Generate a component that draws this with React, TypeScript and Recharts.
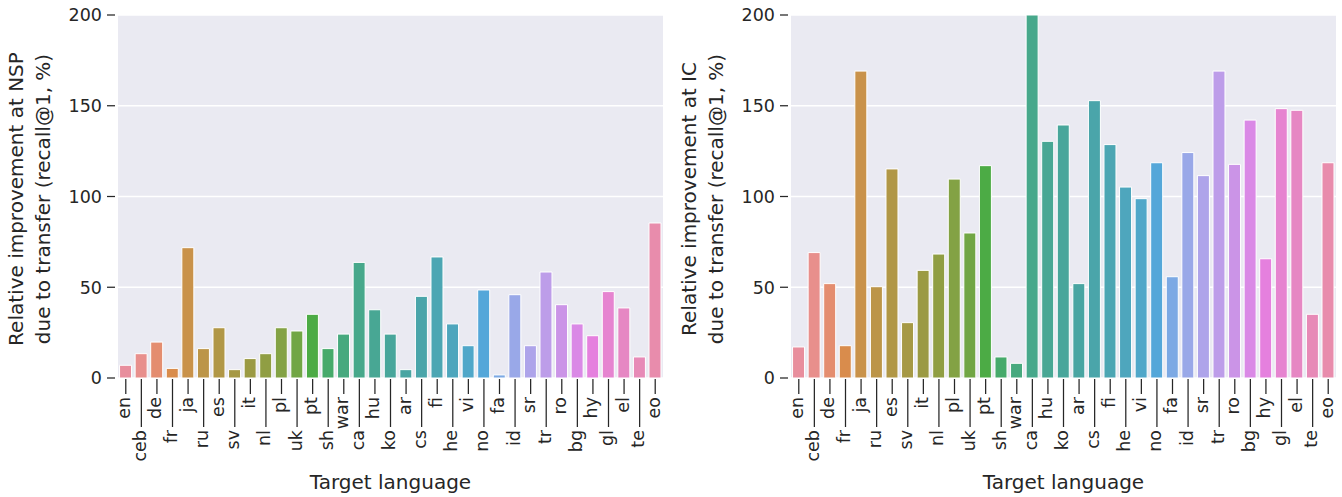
import React from 'react';
import { BarChart, Bar, XAxis, YAxis, CartesianGrid, Cell, Label } from 'recharts';

const LANGS = ['en','ceb','de','fr','ja','ru','es','sv','it','nl','pl','uk','pt','sh','war','ca','hu','ko','ar','cs','fi','he','vi','no','fa','id','sr','tr','ro','bg','hy','gl','el','te','eo'];

const NSP_VALUES = [7.0, 13.4, 19.8, 5.3, 71.8, 16.2, 27.7, 4.6, 10.7, 13.4, 27.7, 25.9, 35.1, 16.2, 24.2, 63.7, 37.6, 24.2, 4.6, 45.0, 66.7, 29.8, 17.8, 48.5, 1.7, 45.9, 17.8, 58.4, 40.4, 29.8, 23.3, 47.6, 38.6, 11.6, 85.4];

const IC_VALUES = [17.1, 69.1, 52.0, 17.8, 169.1, 50.3, 115.2, 30.5, 59.3, 68.3, 109.6, 79.9, 117.0, 11.6, 8.1, 200, 130.4, 139.4, 52.0, 152.8, 128.6, 105.2, 98.8, 118.6, 55.8, 124.2, 111.5, 169.1, 117.7, 142.1, 65.7, 148.4, 147.5, 35.1, 118.6];

const Y_TICKS = [0, 50, 100, 150, 200];

const X_LABEL = 'Target language';
const NSP_LABEL = ['Relative improvement at NSP', 'due to transfer (recall@1, %)'];
const IC_LABEL = ['Relative improvement at IC', 'due to transfer (recall@1, %)'];

const FONT = '"DejaVu Sans", sans-serif';
const TEXT = '#262626';
const TICK_FONT = 17.5;
const LABEL_FONT = 20;

// seaborn-like husl palette (style only)
const M = [[3.2406, -1.5372, -0.4986], [-0.9689, 1.8758, 0.0415], [0.0557, -0.2040, 1.0570]];
const refU = 0.19783000664283, refV = 0.46831999493879, kappa = 903.2962962, epsilon = 0.0088564516;
function maxChroma(L: number, H: number) {
  const hrad = (H / 360) * 2 * Math.PI;
  const sinH = Math.sin(hrad), cosH = Math.cos(hrad);
  const sub1 = Math.pow(L + 16, 3) / 1560896;
  const sub2 = sub1 > epsilon ? sub1 : L / kappa;
  let result = Infinity;
  for (const [m1, m2, m3] of M) {
    const top = (0.99915 * m1 + 1.05122 * m2 + 1.1446 * m3) * sub2;
    const rbottom = 0.8633 * m3 - 0.17266 * m2;
    const lbottom = 0.12949 * m3 - 0.38848 * m1;
    const bottom = (rbottom * sinH + lbottom * cosH) * sub2;
    for (const t of [0, 1]) {
      const C = (L * (top - 1.05122 * t)) / (bottom + 0.17266 * sinH * t);
      if (C > 0 && C < result) result = C;
    }
  }
  return result;
}
function fromLinear(c: number) {
  return c <= 0.0031308 ? 12.92 * c : 1.055 * Math.pow(c, 1 / 2.4) - 0.055;
}
function huslToRgb(H: number, S: number, L: number) {
  const C = (maxChroma(L, H) / 100) * S;
  const hrad = (H / 360) * 2 * Math.PI;
  const U = C * Math.cos(hrad), V = C * Math.sin(hrad);
  const varY = L > 8 ? Math.pow((L + 16) / 116, 3) : L / kappa;
  const varU = U / (13 * L) + refU;
  const varV = V / (13 * L) + refV;
  const Y = varY;
  const X = 0 - (9 * Y * varU) / ((varU - 4) * varV - varU * varV);
  const Z = (9 * Y - 15 * varV * Y - varV * X) / (3 * varV);
  return M.map((r) => Math.min(1, Math.max(0, fromLinear(r[0] * X + r[1] * Y + r[2] * Z))));
}
function desaturate(rgb: number[], prop: number) {
  const l = (Math.max(...rgb) + Math.min(...rgb)) / 2;
  return rgb.map((c) => l + prop * (c - l));
}
function toHex(rgb: number[]) {
  return '#' + rgb.map((c) => Math.round(c * 255).toString(16).padStart(2, '0')).join('');
}
function huslPalette(n: number) {
  const out: string[] = [];
  for (let i = 0; i < n; i++) {
    let h = i / n + 0.01;
    h = (h % 1) * 359;
    out.push(toHex(desaturate(huslToRgb(h, 0.9 * 99, 0.68 * 99), 0.75)));
  }
  return out;
}
const COLORS = huslPalette(LANGS.length);

const XTick = (props: any) => {
  const { x, y, payload } = props;
  const i = LANGS.indexOf(payload.value);
  const len = i % 2 === 1 ? 49 : 16;
  const tx = x + 4.5;
  const ty = y + len + 3;
  return (
    <g>
      <line x1={x} x2={x} y1={y + 1} y2={y + len} stroke={TEXT} strokeWidth={1.25} />
      <text x={tx} y={ty} transform={`rotate(-90 ${tx} ${ty})`} textAnchor="end" fontSize={TICK_FONT} fill={TEXT} fontFamily={FONT}>
        {payload.value}
      </text>
    </g>
  );
};

const YTick = (props: any) => {
  const { x, y, payload } = props;
  return (
    <g>
      <line x1={x - 11} x2={x - 3} y1={y} y2={y} stroke={TEXT} strokeWidth={1.25} />
      <text x={x - 16} y={y} dy="0.36em" textAnchor="end" fontSize={TICK_FONT} fill={TEXT} fontFamily={FONT}>
        {payload.value}
      </text>
    </g>
  );
};

const makeYLabel = (lines: string[]) => (props: any) => {
  const vb = props.viewBox;
  const right = vb.x + vb.width;
  const cy = 199;
  const b1 = right - 95;
  const b2 = right - 68;
  return (
    <g>
      <text x={b1} y={cy} transform={`rotate(-90 ${b1} ${cy})`} textAnchor="middle" fontSize={LABEL_FONT} fill={TEXT} fontFamily={FONT}>{lines[0]}</text>
      <text x={b2} y={cy} transform={`rotate(-90 ${b2} ${cy})`} textAnchor="middle" fontSize={LABEL_FONT} fill={TEXT} fontFamily={FONT}>{lines[1]}</text>
    </g>
  );
};

const xLabelContent = (props: any) => {
  const vb = props.viewBox;
  return (
    <text x={vb.x + vb.width / 2} y={489} textAnchor="middle" fontSize={LABEL_FONT} fill={TEXT} fontFamily={FONT}>
      {X_LABEL}
    </text>
  );
};

function Panel({ values, ylabel, yWidth, right, left }: { values: number[]; ylabel: string[]; yWidth: number; right: number; left: number }) {
  const data = LANGS.map((lang, i) => ({ lang, v: values[i] }));
  return (
    <div style={{ position: 'absolute', left, top: 0 }}>
      <BarChart width={671} height={497} data={data} margin={{ top: 15, right, bottom: 0, left: 0 }} barCategoryGap="10%">
        <CartesianGrid vertical={false} stroke="#ffffff" strokeWidth={1.5} fill="#EAEAF2" fillOpacity={1} />
        <XAxis dataKey="lang" interval={0} height={119} axisLine={false} tickLine={false} tickSize={0} tickMargin={0} tick={<XTick />}>
          <Label content={xLabelContent} />
        </XAxis>
        <YAxis domain={[0, 200]} ticks={Y_TICKS} allowDataOverflow width={yWidth} axisLine={false} tickLine={false} tickSize={0} tickMargin={0} tick={<YTick />}>
          <Label content={makeYLabel(ylabel)} />
        </YAxis>
        <Bar dataKey="v" isAnimationActive={false} stroke="#ffffff" strokeWidth={1}>
          {data.map((d, i) => (
            <Cell key={d.lang} fill={COLORS[i]} />
          ))}
        </Bar>
      </BarChart>
    </div>
  );
}

export default function App() {
  return (
    <div style={{ position: 'absolute', left: 0, top: 0, width: 1342, height: 497, background: '#ffffff' }}>
      <Panel values={NSP_VALUES} ylabel={NSP_LABEL} yWidth={118} right={8} left={0} />
      <Panel values={IC_VALUES} ylabel={IC_LABEL} yWidth={120} right={6} left={671} />
    </div>
  );
}
